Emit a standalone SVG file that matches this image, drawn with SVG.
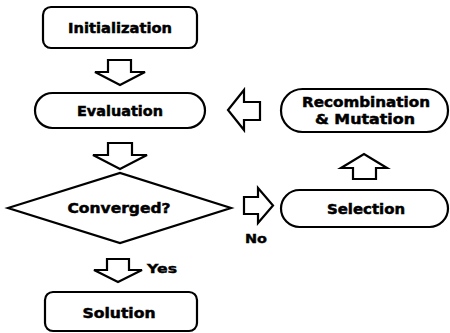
<svg xmlns="http://www.w3.org/2000/svg" width="450" height="333" viewBox="0 0 450 333">
<style>
.s{fill:#fff;stroke:#000;stroke-width:2.2;stroke-linejoin:miter}
.t{font-family:"DejaVu Sans",sans-serif;font-weight:bold;font-size:14.5px;fill:#000;stroke:#000;stroke-width:0.5;text-anchor:middle}
.l{font-family:"DejaVu Sans",sans-serif;font-weight:bold;font-size:12px;fill:#000;stroke:#000;stroke-width:0.4}
</style>
<rect width="450" height="333" fill="#fff"/>
<g id="initialization"><rect class="s" x="43" y="7" width="154" height="41" rx="8"/><text class="t" x="120" y="33" textLength="104" lengthAdjust="spacingAndGlyphs">Initialization</text></g>
<g id="evaluation"><rect class="s" x="35" y="93" width="170" height="35" rx="17.5"/><text class="t" x="120" y="116" textLength="86" lengthAdjust="spacingAndGlyphs">Evaluation</text></g>
<g id="converged"><polygon class="s" points="8,208 120,173 231,208 120,243"/><text class="t" x="119" y="213" textLength="103" lengthAdjust="spacingAndGlyphs">Converged?</text></g>
<g id="solution"><rect class="s" x="45" y="292" width="152" height="39" rx="8"/><text class="t" x="119" y="318" textLength="73" lengthAdjust="spacingAndGlyphs">Solution</text></g>
<g id="recombination"><rect class="s" x="281" y="89" width="167" height="43" rx="21.5"/><text class="t" x="366" y="107" textLength="128" lengthAdjust="spacingAndGlyphs">Recombination</text><text class="t" x="365" y="124" textLength="100" lengthAdjust="spacingAndGlyphs">&amp; Mutation</text></g>
<g id="selection"><rect class="s" x="281" y="190" width="167" height="37" rx="18.5"/><text class="t" x="366" y="214" textLength="78" lengthAdjust="spacingAndGlyphs">Selection</text></g>
<g id="connectors">
<polygon class="s" points="108,60 131,60 131,72 145,72 120,85 95,72 108,72"/>
<polygon class="s" points="108,143 132,143 132,155 147,155 120,169 93,155 108,155"/>
<polygon class="s" points="107,259 129,259 129,270 142,270 118,282 94,270 107,270"/>
<polygon class="s" points="260,102 260,120 244,120 244,130 228,110 244,90 244,102"/>
<polygon class="s" points="244,197 258,197 258,188 273,205.5 258,223 258,214 244,214"/>
<polygon class="s" points="353,179 353,168 341,168 364,154 387,168 376,168 376,179"/>
<text class="l" x="147" y="273" textLength="30" lengthAdjust="spacingAndGlyphs">Yes</text>
<text class="l" x="245" y="243" textLength="22" lengthAdjust="spacingAndGlyphs">No</text>
</g>
</svg>
